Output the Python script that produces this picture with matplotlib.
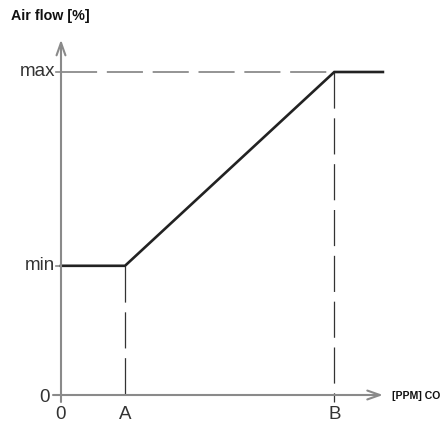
import numpy as np
import matplotlib
matplotlib.use("Agg")
import matplotlib.pyplot as plt

plt.rcParams["font.family"] = ["Liberation Sans", "DejaVu Sans"]
plt.rcParams["lines.scale_dashes"] = False

# curve: CO2 concentration (x, in units of A) vs air flow [%]
x_pts = [0.0, 1.0, 4.27, 5.03]
y_pts = [40, 40, 100, 100]

# axis extents / guide levels
x_ticks = [0.0, 1.0, 4.27]
x_tick_labels = ["0", "A", "B"]
y_ticks = [0, 40, 100]
y_tick_labels = ["0", "min", "max"]
x_axis_end = 5.03
y_axis_end = 110

AXIS_C = "#8a8a8a"
LINE_C = "#222222"
GUIDE_C = "#333333"

fig = plt.figure(figsize=(4.45, 4.23), dpi=100)
ax = fig.add_axes([0, 0, 1, 1])
ax.set_xlim(-61 / 64, 384 / 64)
ax.set_ylim(-28 / 3.23, 395 / 3.23)
ax.axis("off")

# small overhang of axes below / left of origin
over_x = 8 / 64
over_y = 7 / 3.23

# axes with open arrow heads
arrow = dict(arrowstyle="->,head_length=0.9,head_width=0.32", color=AXIS_C,
             lw=1.5, shrinkA=0, shrinkB=0)
ax.annotate("", xy=(0, y_axis_end), xytext=(0, -over_y), arrowprops=arrow)
ax.annotate("", xy=(x_axis_end, 0), xytext=(-over_x, 0), arrowprops=arrow)

# tick marks on y axis
for yv in y_ticks[1:]:
    ax.plot([-over_x * 0.6, 0], [yv, yv], color=AXIS_C, lw=1.2)

# dashed guide at max
ax.plot([0, x_ticks[2]], [y_pts[2], y_pts[2]], color="#777777", lw=1.1,
        dashes=(26, 7))

# vertical dashed guides at A and B
ax.plot([x_ticks[1], x_ticks[1]], [y_pts[1], -over_y], color=GUIDE_C, lw=0.9,
        dashes=(26, 7))
ax.plot([x_ticks[2], x_ticks[2]], [y_pts[2], -over_y], color=GUIDE_C, lw=0.9,
        dashes=(26, 7))

# main curve
ax.plot(x_pts, y_pts, color=LINE_C, lw=1.9, solid_joinstyle="miter")

# tick labels
for yv, lab in zip(y_ticks, y_tick_labels):
    if lab == "0":
        ax.annotate(lab, xy=(0, yv), xytext=(-8, -5), textcoords="offset points",
                    ha="right", va="baseline", fontsize=13.5, color="#333333")
    else:
        ax.annotate(lab, xy=(0, yv), xytext=(-4, 0), textcoords="offset points",
                    ha="right", va="center", fontsize=13.5, color="#333333")

for xv, lab in zip(x_ticks, x_tick_labels):
    ax.annotate(lab, xy=(xv, 0), xytext=(0, -17), textcoords="offset points",
                ha="center", va="baseline", fontsize=13.5, color="#333333")

fig.text(11 / 445, 1 - 20 / 423, "Air flow [%]", fontsize=10.3, fontweight="bold",
         va="baseline", ha="left", color="#111111")
fig.text(392 / 445, 1 - 396 / 423, "[PPM] CO", fontsize=7.6, fontweight="bold",
         va="center", ha="left", color="#111111")

fig.savefig("out.png", dpi=100)
